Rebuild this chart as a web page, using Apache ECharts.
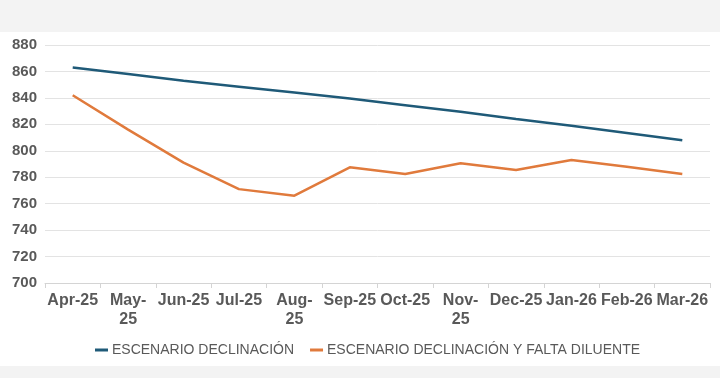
<!DOCTYPE html>
<html>
<head>
<meta charset="utf-8">
<script src="https://cdn.jsdelivr.net/npm/echarts@6/dist/echarts.min.js"></script>
<style>
html,body{margin:0;padding:0;background:#ffffff;}
#c{width:720px;height:378px;}
</style>
</head>
<body>
<div id="c"></div>
<script>
const categories = ['Apr-25','May-25','Jun-25','Jul-25','Aug-25','Sep-25','Oct-25','Nov-25','Dec-25','Jan-26','Feb-26','Mar-26'];
const seriesNames = ['ESCENARIO DECLINACIÓN','ESCENARIO DECLINACIÓN Y FALTA DILUENTE'];
const declinacion = [863, 858, 853, 848.5, 844, 839.5, 834.5, 829.5, 824, 819, 813.5, 808];
const faltaDiluente = [842, 816, 791, 771, 766, 787.5, 782.5, 790.5, 785.5, 793, 788, 782.5];
const yTicks = {min: 700, max: 880, interval: 20};
const wrapLabels = {'May-25':'May-\n25','Aug-25':'Aug-\n25','Nov-25':'Nov-\n25'};

const chart = echarts.init(document.getElementById('c'), null, {renderer:'canvas'});
chart.setOption({
  animation:false,
  backgroundColor:'#ffffff',
  graphic:[
    {type:'rect',left:0,top:0,shape:{width:720,height:32},style:{fill:'#f3f3f3'},silent:true},
    {type:'rect',left:0,top:366,shape:{width:720,height:12},style:{fill:'#f3f3f3'},silent:true}
  ],
  grid:{left:45,right:10,top:45,bottom:95,containLabel:false},
  xAxis:{
    type:'category',
    data:categories,
    boundaryGap:true,
    axisLine:{show:true,lineStyle:{color:'#d4d4d4',width:1}},
    axisTick:{show:true,length:5,lineStyle:{color:'#d4d4d4'}},
    axisLabel:{
      interval:0,
      color:'#595959',
      fontFamily:'Liberation Sans, Arial, sans-serif',
      fontWeight:'bold',
      fontSize:16,
      lineHeight:19,
      margin:8,
      formatter:function(v){return wrapLabels[v]||v;}
    }
  },
  yAxis:{
    type:'value',
    min:yTicks.min,max:yTicks.max,interval:yTicks.interval,
    axisLine:{show:false},
    axisTick:{show:false},
    splitLine:{lineStyle:{color:'#e3e3e3',width:1}},
    axisLabel:{
      color:'#595959',
      fontFamily:'Liberation Sans, Arial, sans-serif',
      fontWeight:'bold',
      fontSize:15,
      margin:8
    }
  },
  legend:{
    data:seriesNames,
    left:95,
    top:343,
    padding:0,
    itemGap:16,
    itemWidth:13,
    itemHeight:3,
    icon:'rect',
    textStyle:{color:'#595959',fontSize:14,fontFamily:'Liberation Sans, Arial, sans-serif',padding:[0,0,0,-1]}
  },
  series:[
    {name:seriesNames[0],type:'line',data:declinacion,symbol:'none',
     lineStyle:{color:'#1f5a78',width:2.5},itemStyle:{color:'#1f5a78'}},
    {name:seriesNames[1],type:'line',data:faltaDiluente,symbol:'none',
     lineStyle:{color:'#e07a3c',width:2.5},itemStyle:{color:'#e07a3c'}}
  ]
});
</script>
</body>
</html>
